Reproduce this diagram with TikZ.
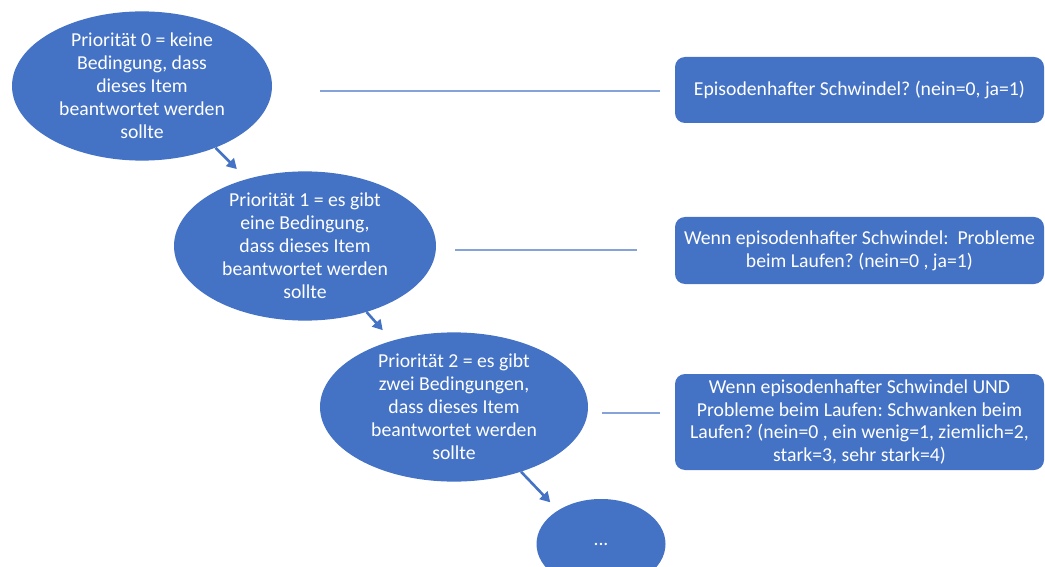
\documentclass[tikz,border=0pt]{standalone}
\usepackage{fontspec}
\setmainfont{Carlito}
\usetikzlibrary{shapes.geometric,arrows.meta}
\definecolor{officeblue}{HTML}{4472C4}
\frenchspacing
\begin{document}
\begin{tikzpicture}[x=1bp,y=-1bp,
  prio/.style={ellipse, fill=officeblue, text=white, inner sep=0pt, align=center,
    font=\fontsize{19.8}{23}\selectfont},
  qbox/.style={rectangle, rounded corners=10bp, fill=officeblue, text=white,
    inner sep=0pt, align=center, minimum width=369bp,
    font=\fontsize{19.8}{23}\selectfont},
  link/.style={draw=officeblue, line width=1.1bp},
  flow/.style={draw=officeblue, line width=2.6bp,
    -{Triangle[length=10bp,width=11bp]}}]

\useasboundingbox (0,0) rectangle (1045,567);
\clip (0,0) rectangle (1045,567);

% priority levels
\node[prio, minimum width=260bp, minimum height=140bp] (e0) at (142,86)
  {Priorität 0 = keine\\Bedingung, dass\\dieses Item\\beantwortet werden\\sollte};
\node[prio, minimum width=262bp, minimum height=124bp] (e1) at (305,246)
  {Priorität 1 = es gibt\\eine Bedingung,\\dass dieses Item\\beantwortet werden\\sollte};
\node[prio, minimum width=268bp, minimum height=133bp] (e2) at (454,407)
  {Priorität 2 = es gibt\\zwei Bedingungen,\\dass dieses Item\\beantwortet werden\\sollte};
\node[prio, minimum width=129bp, minimum height=90bp] (e3) at (601,544) {...};

% questions
\node[qbox, minimum height=66bp] (b1) at (859.5,90)
  {Episodenhafter Schwindel? (nein=0, ja=1)};
\node[qbox, minimum height=67bp] (b2) at (859.5,250.5)
  {Wenn episodenhafter Schwindel:\ \ Probleme\\beim Laufen? (nein=0 , ja=1)};
\node[qbox, minimum height=96bp] (b3) at (859.5,422)
  {Wenn episodenhafter Schwindel UND\\Probleme beim Laufen: Schwanken beim\\Laufen? (nein=0 , ein wenig=1, ziemlich=2,\\stark=3, sehr stark=4)};

% level-to-question links (horizontal)
\draw[link] ([xshift=48bp,yshift=-5bp]e0.east) -- ([xshift=-15bp,yshift=-1bp]b1.west);
\draw[link] ([xshift=19bp,yshift=-4bp]e1.east) -- ([xshift=-38bp,yshift=0.5bp]b2.west);
\draw[link] ([xshift=14bp,yshift=-6bp]e2.east) -- ([xshift=-15bp,yshift=9bp]b3.west);

% priority sequence
\draw[flow, shorten >=14bp] (e0.-40) -- (e1.131);
\draw[flow, shorten >=14bp] (e1.-47) -- (e2.133);
\draw[flow, shorten >=11bp] (e2.-44) -- (e3.142);
\end{tikzpicture}
\end{document}
